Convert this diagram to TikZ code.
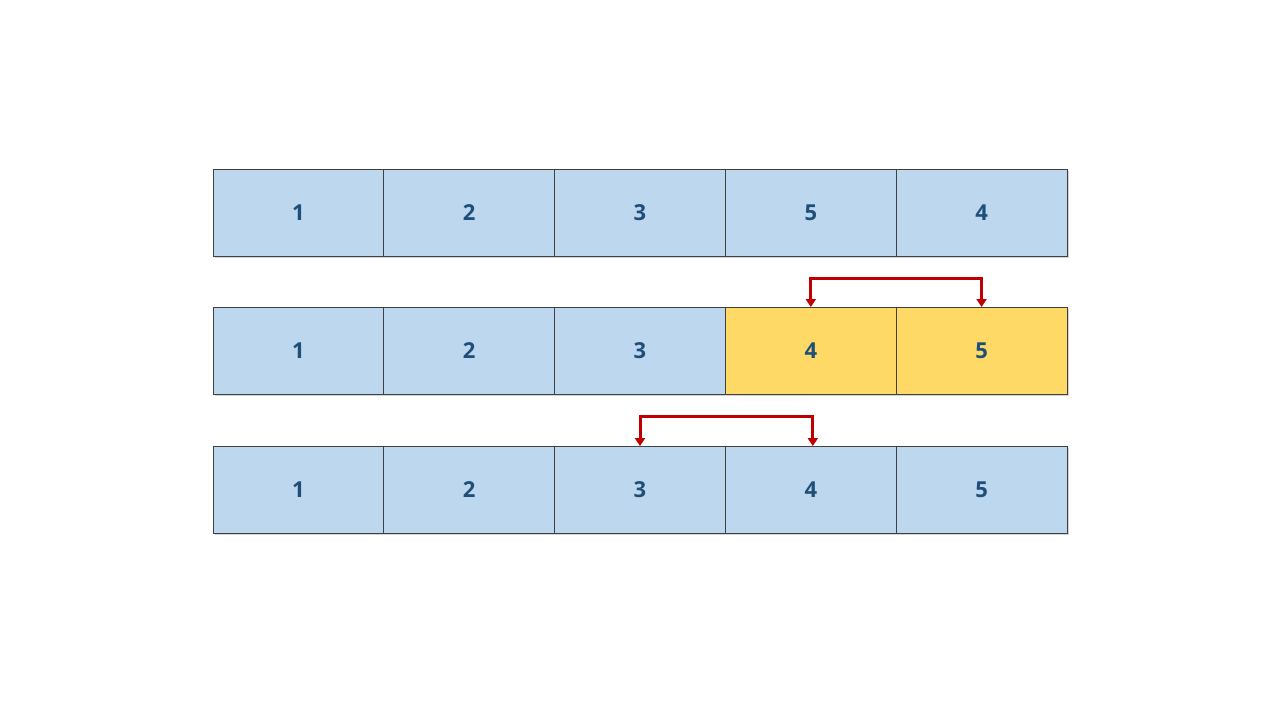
\documentclass[tikz,border=0pt]{standalone}
\usepackage{fontspec}
\setmainfont{Open Sans}
\definecolor{cellBlue}{HTML}{BDD7EE}
\definecolor{cellGold}{HTML}{FFD966}
\definecolor{numBlue}{HTML}{1F4E79}
\definecolor{swapRed}{HTML}{C00000}
\usetikzlibrary{arrows.meta, positioning, shadows}

\begin{document}
\begin{tikzpicture}[x=1pt, y=-1pt,
  cell/.style={draw=black!75, line width=1pt, fill=cellBlue, minimum width=170.8pt,
    minimum height=87pt, inner sep=0pt, outer sep=0pt, text=numBlue,
    font=\fontsize{22}{26}\selectfont\bfseries,
    drop shadow={shadow xshift=1.5pt, shadow yshift=-2pt, opacity=0.35}},
  hot/.style={fill=cellGold},
  swaparrow/.style={draw=swapRed, line width=3pt,
    {Triangle[width=10pt, length=8pt]}-{Triangle[width=10pt, length=8pt]}}]
  \useasboundingbox (0,0) rectangle (1280,720);

  % before the swaps
  \node[cell, anchor=north west] (a1) at (213,169) {1};
  \node[cell, right=0pt of a1] (a2) {2};
  \node[cell, right=0pt of a2] (a3) {3};
  \node[cell, right=0pt of a3] (a4) {5};
  \node[cell, right=0pt of a4] (a5) {4};

  % 4 and 5 swapped
  \node[cell, anchor=north west] (b1) at (213,307) {1};
  \node[cell, right=0pt of b1] (b2) {2};
  \node[cell, right=0pt of b2] (b3) {3};
  \node[cell, hot, right=0pt of b3] (b4) {4};
  \node[cell, hot, right=0pt of b4] (b5) {5};

  % sorted
  \node[cell, anchor=north west] (c1) at (213,446) {1};
  \node[cell, right=0pt of c1] (c2) {2};
  \node[cell, right=0pt of c2] (c3) {3};
  \node[cell, right=0pt of c3] (c4) {4};
  \node[cell, right=0pt of c4] (c5) {5};

  \draw[swaparrow] (b4.north) -- ++(0,-29) -| (b5.north);
  \draw[swaparrow] (c3.north) -- ++(0,-30) -| ([xshift=2pt]c4.north);
\end{tikzpicture}
\end{document}
